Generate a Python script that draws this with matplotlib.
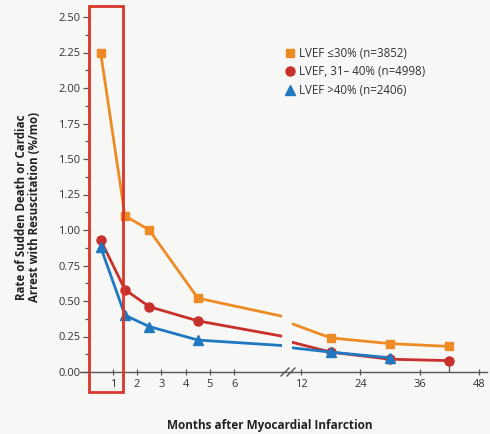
import matplotlib
matplotlib.use("Agg")
import matplotlib.pyplot as plt
from matplotlib.patches import Rectangle
from matplotlib.lines import Line2D

plt.rcParams['font.family'] = ['Open Sans', 'DejaVu Sans']

# Data (months after MI, rate %/mo); month-9 point sits hidden in the axis break
months_low = [0.5, 1.5, 2.5, 4.5, 9, 18, 30, 42]
lvef_le30 = [2.25, 1.10, 1.00, 0.52, 0.355, 0.24, 0.20, 0.18]
lvef_31_40 = [0.93, 0.58, 0.46, 0.36, 0.22, 0.14, 0.09, 0.08]
months_high = [0.5, 1.5, 2.5, 4.5, 9, 18, 30]
lvef_gt40 = [0.88, 0.40, 0.32, 0.225, 0.175, 0.14, 0.10]
marker_idx_a = [0, 1, 2, 3, 5, 6, 7]
marker_idx_b = [0, 1, 2, 3, 5, 6]

labels = ["LVEF \u226430% (n=3852)", "LVEF, 31\u2013 40% (n=4998)", "LVEF >40% (n=2406)"]
yticks = [0, 0.25, 0.5, 0.75, 1.0, 1.25, 1.5, 1.75, 2.0, 2.25, 2.5]
xticks1 = [1, 2, 3, 4, 5, 6]
xticks2 = [12, 24, 36, 48]

c_or = '#ee8b24'
c_red = '#c8302b'
c_blue = '#1f78c0'
bg = '#f7f7f5'
gray = '#555555'

W, H = 490, 434
fig = plt.figure(figsize=(4.9, 4.34), dpi=100, facecolor=bg)

y0, y1 = 372, 17
bottom = (H - y0) / H
height = (y0 - y1) / H
ax1 = fig.add_axes([88.5 / W, bottom, (282 - 88.5) / W, height])
ax2 = fig.add_axes([292 / W, bottom, (487 - 292) / W, height])

for ax in (ax1, ax2):
    ax.set_facecolor(bg)
    ax.plot(months_low, lvef_le30, color=c_or, lw=2, marker='s', ms=6,
            markevery=marker_idx_a, zorder=3)
    ax.plot(months_low, lvef_31_40, color=c_red, lw=2, marker='o', ms=6.5,
            markevery=marker_idx_a, zorder=3)
    ax.plot(months_high, lvef_gt40, color=c_blue, lw=2, marker='^', ms=6.5,
            markevery=marker_idx_b, zorder=4)
    ax.set_ylim(0, 2.5)
    for s in ('top', 'right'):
        ax.spines[s].set_visible(False)
    ax.spines['bottom'].set_color(gray)
    ax.spines['bottom'].set_linewidth(1.0)

ax1.set_xlim(0, (282 - 88.5) / 24.3)
ax2.set_xlim(12 - (301 - 292) / 4.944, 12 + (487 - 301) / 4.944)

ax1.spines['left'].set_color(gray)
ax1.set_yticks(yticks)
ax1.set_yticklabels([f"{v:.2f}" for v in yticks])
ax1.set_yticks([v + 0.125 for v in yticks[:-1]], minor=True)
ax1.tick_params(axis='y', which='major', length=4, width=0.9, color=gray,
                labelsize=8, labelcolor='#333333', pad=2)
ax1.tick_params(axis='y', which='minor', length=3, width=0.9, color=gray)
ax1.set_xticks(xticks1)
ax1.set_xticklabels([str(v) for v in xticks1])
ax1.tick_params(axis='x', length=4, width=0.9, color=gray, direction='inout',
                labelsize=8, labelcolor='#333333', pad=3)

ax2.spines['left'].set_visible(False)
ax2.set_yticks([])
ax2.set_xticks(xticks2)
ax2.set_xticklabels([str(v) for v in xticks2])
ax2.set_xticks([42], minor=True)
ax2.tick_params(axis='x', which='major', length=4, width=0.9, color=gray,
                direction='inout', labelsize=8, labelcolor='#333333', pad=3)
ax2.tick_params(axis='x', which='minor', length=4, width=0.9, color=gray,
                direction='in')

# axis line across the gap, small overhang at left, and break marks
fig.add_artist(Line2D([282 / W, 292 / W], [bottom, bottom], color=gray, lw=1.0))
fig.add_artist(Line2D([80 / W, 88.5 / W], [bottom, bottom], color=gray, lw=1.0))
for xc in (285, 291):
    fig.add_artist(Line2D([(xc - 4) / W, (xc + 4) / W],
                          [(H - 376) / H, (H - 368) / H], color=gray, lw=1.0))

# red highlight rectangle around first month
rect = Rectangle((0, -0.14), 1.44, 2.72, fill=False, edgecolor='#d9352a',
                 lw=2, clip_on=False, zorder=6, transform=ax1.transData)
ax1.add_patch(rect)

# labels
fig.text(28 / W, (H - 207) / H, "Rate of Sudden Death or Cardiac\nArrest with Resuscitation (%/mo)",
         rotation=90, ha='center', va='center', fontsize=8.3, fontweight='bold',
         color='#222222', linespacing=1.0)
fig.text(270 / W, (H - 426) / H, "Months after Myocardial Infarction",
         ha='center', va='center', fontsize=8.5, fontweight='bold', color='#222222')

handles = [Line2D([], [], color=c_or, marker='s', ls='none', ms=6),
           Line2D([], [], color=c_red, marker='o', ls='none', ms=6.5),
           Line2D([], [], color=c_blue, marker='^', ls='none', ms=6.5)]
leg = fig.legend(handles, labels, loc='upper left',
                 bbox_to_anchor=(281 / W, (H - 42) / H), frameon=False,
                 fontsize=8.3, handlelength=0.8, handletextpad=0.4,
                 labelspacing=0.5, borderaxespad=0)
for t in leg.get_texts():
    t.set_color('#333333')

fig.savefig('out.png', dpi=100, facecolor=bg)
